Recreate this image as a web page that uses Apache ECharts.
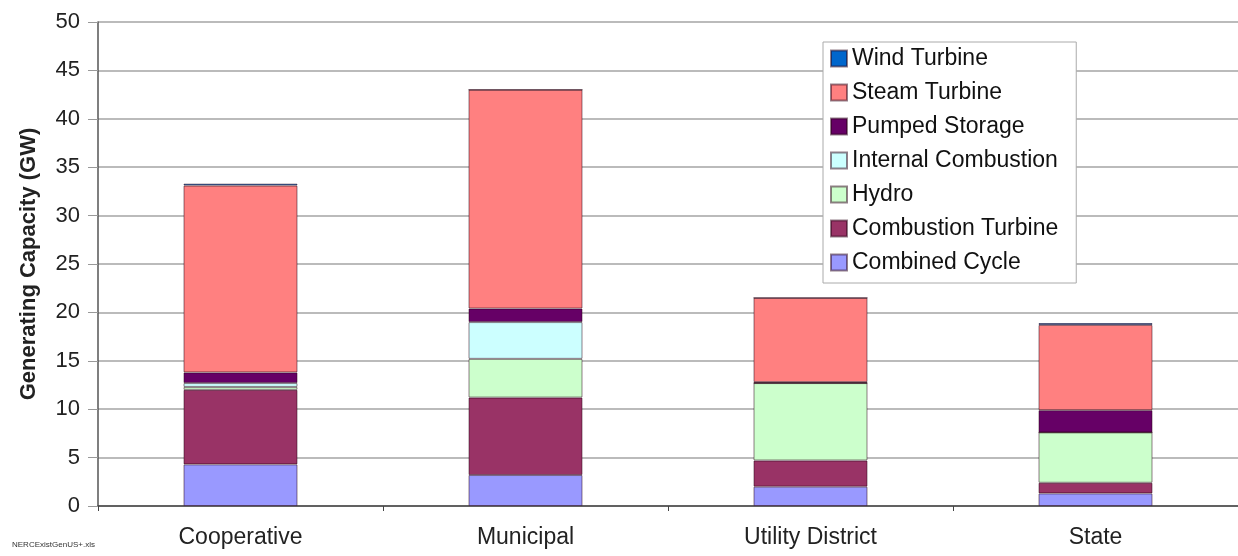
<!DOCTYPE html>
<html>
<head>
<meta charset="utf-8">
<script src="https://cdn.jsdelivr.net/npm/echarts@6/dist/echarts.min.js"></script>
<style>
  html, body { margin: 0; padding: 0; background: #fff; }
  #chart { width: 1238px; height: 556px; }
</style>
</head>
<body>
<div id="chart"></div>
<script>
// categories and values (GW)
var categories = ["Cooperative", "Municipal", "Utility District", "State"];
var combinedCycle = [4.3, 3.2, 2.0, 1.3];
var combustionTurbine = [7.7, 8.0, 2.7, 1.1];
var hydro = [0.3, 4.0, 8.0, 5.2];
var internalCombustion = [0.4, 3.8, 0, 0];
var pumpedStorage = [1.1, 1.4, 0.1, 2.3];
var steamTurbine = [19.3, 22.6, 8.7, 8.8];
var windTurbine = [0.2, 0, 0, 0.2];
var yTicks = [0, 50, 5]; // min, max, step

var font = "Liberation Sans, Arial, sans-serif";

function seg(name, data, color) {
  return {
    name: name,
    type: "bar",
    stack: "total",
    barWidth: "40%",
    data: data,
    itemStyle: { color: color, borderColor: "rgba(40,0,20,0.5)", borderWidth: 1 }
  };
}

var chart = echarts.init(document.getElementById("chart"));
chart.setOption({
  animation: false,
  backgroundColor: "#fff",
  textStyle: { fontFamily: font },
  grid: { left: 98, right: 0, top: 22, bottom: 50 },
  legend: {
    orient: "vertical",
    left: 823,
    top: 42,
    padding: [5, 18, 9, 7],
    itemGap: 11,
    itemWidth: 16,
    itemHeight: 16,
    icon: "rect",
    backgroundColor: "#fff",
    borderColor: "#aaa",
    borderWidth: 1,
    textStyle: { fontFamily: font, fontSize: 23, color: "#111", padding: [0, 0, 0, 0] },
    data: ["Wind Turbine", "Steam Turbine", "Pumped Storage", "Internal Combustion",
           "Hydro", "Combustion Turbine", "Combined Cycle"]
  },
  xAxis: {
    type: "category",
    data: categories,
    axisLine: { lineStyle: { color: "#444", width: 1.5 } },
    axisTick: { show: true, length: 5, lineStyle: { color: "#444" } },
    axisLabel: { fontFamily: font, fontSize: 23, color: "#222", margin: 20 }
  },
  yAxis: {
    type: "value",
    min: yTicks[0],
    max: yTicks[1],
    interval: yTicks[2],
    name: "Generating Capacity (GW)",
    nameLocation: "middle",
    nameGap: 58,
    nameTextStyle: { fontFamily: font, fontSize: 22, fontWeight: "bold", color: "#222" },
    axisLine: { show: true, lineStyle: { color: "#555", width: 1.5 } },
    axisTick: { show: true, length: 10, lineStyle: { color: "#999" } },
    axisLabel: { fontFamily: font, fontSize: 22, color: "#222", margin: 18 },
    splitLine: { lineStyle: { color: "#bbb", width: 2 } }
  },
  series: [
    seg("Combined Cycle", combinedCycle, "#9999ff"),
    seg("Combustion Turbine", combustionTurbine, "#993366"),
    seg("Hydro", hydro, "#ccffcc"),
    seg("Internal Combustion", internalCombustion, "#ccffff"),
    seg("Pumped Storage", pumpedStorage, "#660066"),
    seg("Steam Turbine", steamTurbine, "#ff8080"),
    seg("Wind Turbine", windTurbine, "#0066cc")
  ],
  graphic: [{
    type: "text",
    left: 12,
    top: 541,
    style: { text: "NERCExistGenUS+.xls", fontFamily: font, fontSize: 8, fill: "#333" }
  }]
});
</script>
</body>
</html>
